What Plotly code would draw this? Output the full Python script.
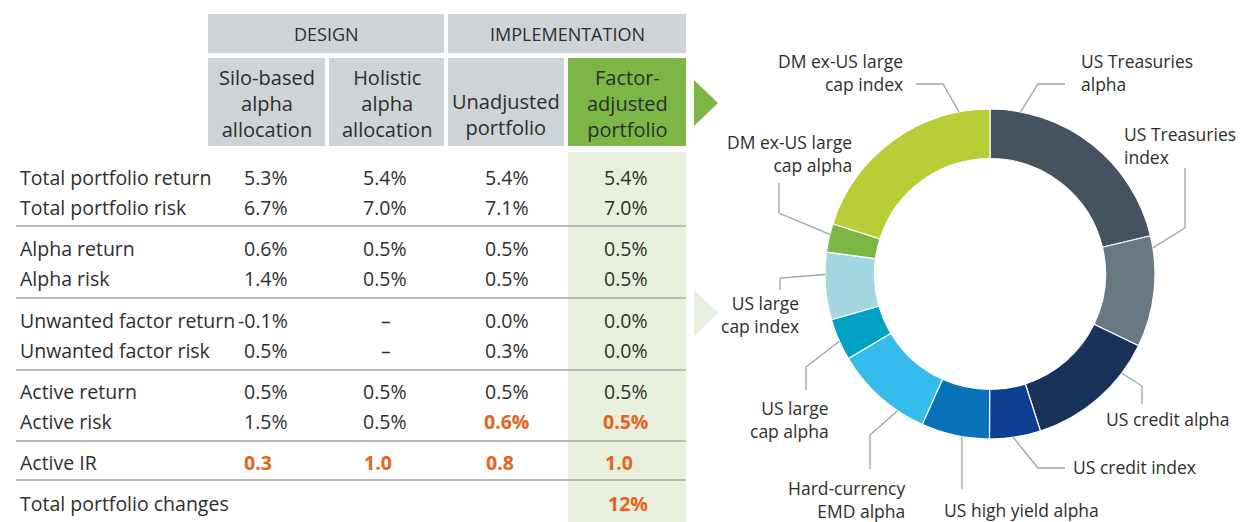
import math
import plotly.graph_objects as go

W, H = 1242, 522

# ---------------- data ----------------
group_headers = ["DESIGN", "IMPLEMENTATION"]
col_headers = ["Silo-based<br>alpha<br>allocation", "Holistic<br>alpha<br>allocation",
               "Unadjusted<br>portfolio", "Factor-<br>adjusted<br>portfolio"]
row_labels = ["Total portfolio return", "Total portfolio risk", "Alpha return", "Alpha risk",
              "Unwanted factor return", "Unwanted factor risk", "Active return", "Active risk",
              "Active IR", "Total portfolio changes"]
silo_based = ["5.3%", "6.7%", "0.6%", "1.4%", "-0.1%", "0.5%", "0.5%", "1.5%", "0.3", ""]
holistic = ["5.4%", "7.0%", "0.5%", "0.5%", "–", "–", "0.5%", "0.5%", "1.0", ""]
unadjusted = ["5.4%", "7.1%", "0.5%", "0.5%", "0.0%", "0.3%", "0.5%", "0.6%", "0.8", ""]
factor_adjusted = ["5.4%", "7.0%", "0.5%", "0.5%", "0.0%", "0.0%", "0.5%", "0.5%", "1.0", "12%"]
highlighted = [(7, 2), (7, 3), (8, 0), (8, 1), (8, 2), (8, 3), (9, 3)]  # (row, col)

segments = ["US Treasuries alpha", "US Treasuries index", "US credit alpha", "US credit index",
            "US high yield alpha", "Hard-currency EMD alpha", "US large cap alpha",
            "US large cap index", "DM ex-US large cap alpha", "DM ex-US large cap index"]
weights = [21.3, 10.9, 12.9, 5.0, 6.7, 9.7, 4.1, 6.6, 2.8, 20.1]

# ---------------- styles ----------------
FONT = "Open Sans"
TXT = "#2e2e2e"
ORANGE = "#e5631c"
GREY_BOX = "#cdd3d7"
GREEN = "#7bb646"
LIGHT_GREEN = "#e8f0dd"
SEP = "#b9b9b9"
LEADER = "#9aa3a8"
seg_colors = ["#44535f", "#6a7881", "#19325a", "#0e3f92", "#0872b8", "#33bcec",
              "#00a0c3", "#a2d6e1", "#7ab843", "#b8cd36"]

col_left = [242, 362, 484, 603]
col_right = [290, 409, 531, 650]
col_center = [266, 386, 506, 627]
row_y = [177, 207, 248, 278, 320, 350, 391, 421, 462, 503]
sep_y = [226, 298, 370, 441, 480]
TABLE_FS = 19.5

shapes = []
annotations = []

def rect(x0, y0, x1, y1, color):
    shapes.append(dict(type="rect", xref="x", yref="y", x0=x0, y0=y0, x1=x1, y1=y1,
                       fillcolor=color, line=dict(width=0), layer="below"))

def text(x, y, s, size, color=TXT, xanchor="center", align=None):
    annotations.append(dict(x=x, y=y, text=s, xanchor=xanchor, align=align or xanchor,
                            font=dict(family=FONT, size=size, color=color)))

# highlighted column background
rect(568, 152, 686, H, LIGHT_GREEN)
# group headers
rect(208, 14, 444, 53, GREY_BOX)
rect(448, 14, 686, 53, GREY_BOX)
text(326, 34, group_headers[0], 18)
text(567, 34, group_headers[1], 18)
# column headers
col_boxes = [(208, 325), (329, 444), (448, 564), (568, 686)]
for i, (x0, x1) in enumerate(col_boxes):
    rect(x0, 58, x1, 146, GREEN if i == 3 else GREY_BOX)
    nlines = col_headers[i].count("<br>") + 1
    text((x0 + x1) / 2, 103 if nlines == 3 else 114, col_headers[i], 20)

# arrows
shapes.append(dict(type="path", xref="x", yref="y", path="M 694,80 L 718,103 L 694,126 Z",
                   fillcolor=GREEN, line=dict(width=0)))
shapes.append(dict(type="path", xref="x", yref="y", path="M 694,290 L 718,313 L 694,336 Z",
                   fillcolor=LIGHT_GREEN, line=dict(width=0)))

# separators
for y in sep_y:
    shapes.append(dict(type="line", xref="x", yref="y", x0=16, x1=686, y0=y, y1=y,
                       line=dict(color=SEP, width=2)))

# rows
columns = [silo_based, holistic, unadjusted, factor_adjusted]
for r, lab in enumerate(row_labels):
    text(18, row_y[r], lab, TABLE_FS, xanchor="left")
    for c, col in enumerate(columns):
        v = col[r]
        if not v:
            continue
        hl = (r, c) in highlighted
        s = f"<b>{v}</b>" if hl else v
        if v == "–":
            x, xa = col_center[c], "center"
        elif v.endswith("%"):
            x, xa = col_right[c], "right"
        else:
            x, xa = col_left[c], "left"
        text(x, row_y[r], s, TABLE_FS, color=ORANGE if hl else TXT, xanchor=xa)

# ---------------- donut ----------------
CX, CY, R = 990, 274, 165
HOLE = 0.70
LABEL_FS = 17.5

# label layout: text, x, y, xanchor, relative position inside slice for leader start,
# leader elbow points from ring outward (None x = keep the ring x)
label_layout = [
    ("US Treasuries<br>alpha", 1079, 72, "left", 0.14, [(1038, 84), (1065, 84)]),
    ("US Treasuries<br>index", 1122, 145, "left", 0.11, [(1185, 228), (1185, 168)]),
    ("US credit alpha", 1104, 419, "left", 0.24, [(1142, 386), (1142, 404)]),
    ("US credit index", 1071, 467, "left", 0.54, [(1038, 468), (1065, 468)]),
    ("US high yield alpha", 942, 510, "left", 0.40, [(None, 489)]),
    ("Hard-currency<br>EMD alpha", 907, 499, "right", 0.28, [(870, 435), (870, 469)]),
    ("US large<br>cap alpha", 831, 419, "right", 0.46, [(806, 367), (806, 390)]),
    ("US large<br>cap index", 801, 314, "right", 0.67, [(780, 278), (780, 290)]),
    ("DM ex-US large<br>cap alpha", 854, 153, "right", 0.62, [(779, 213), (779, 183)]),
    ("DM ex-US large<br>cap index", 905, 72, "right", 0.85, [(943, 84), (916, 84)]),
]

total = sum(weights)
cum = 0.0
for i, w in enumerate(weights):
    s, tx, ty, xa, frac, elbows = label_layout[i]
    ang = math.radians((cum + frac * w) / total * 360.0)
    cum += w
    ex, ey = CX + R * math.sin(ang), CY - R * math.cos(ang)
    pts = [(ex, ey)] + [(ex if x is None else x, y) for x, y in elbows]
    path = "M " + " L ".join(f"{x:.1f},{y:.1f}" for x, y in pts)
    shapes.append(dict(type="path", xref="x", yref="y", path=path,
                       line=dict(color=LEADER, width=1.3)))
    text(tx, ty, s, LABEL_FS, xanchor=xa)

for a in annotations:
    a.update(xref="x", yref="y", showarrow=False, yanchor="middle")

fig = go.Figure()
fig.add_trace(go.Pie(
    labels=segments, values=weights, hole=HOLE, sort=False, direction="clockwise",
    rotation=0, textinfo="none", hoverinfo="label+percent",
    marker=dict(colors=seg_colors, line=dict(color="white", width=1.2)),
    domain=dict(x=[(CX - R) / W, (CX + R) / W], y=[1 - (CY + R) / H, 1 - (CY - R) / H]),
    showlegend=False,
))
fig.add_trace(go.Scatter(x=[0, W], y=[0, H], mode="markers", marker=dict(opacity=0),
                         hoverinfo="skip", showlegend=False))
fig.update_layout(
    width=W, height=H, margin=dict(l=0, r=0, t=0, b=0),
    paper_bgcolor="white", plot_bgcolor="white",
    xaxis=dict(range=[0, W], visible=False, fixedrange=True),
    yaxis=dict(range=[H, 0], visible=False, fixedrange=True),
    shapes=shapes, annotations=annotations,
)
fig.write_html("out.html", config={"displayModeBar": False},
               post_script="document.body.style.margin='0';document.body.style.overflow='hidden';")
